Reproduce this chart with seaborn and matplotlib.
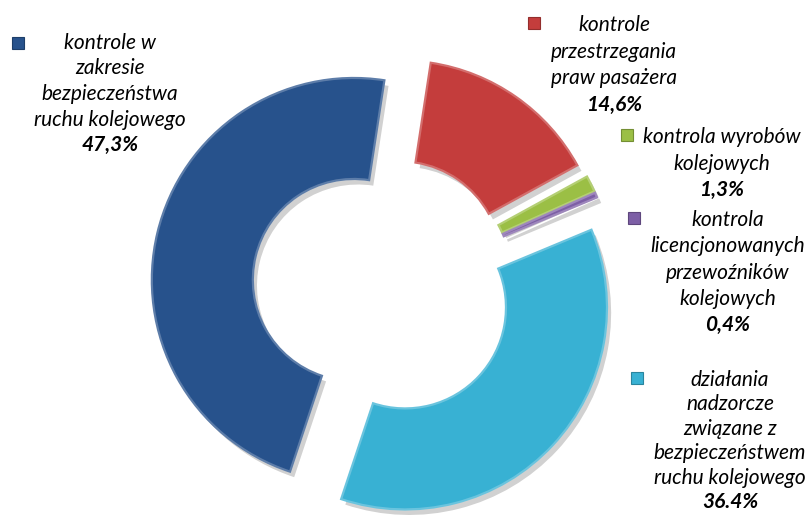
import numpy as np
import matplotlib
matplotlib.use("Agg")
import matplotlib.pyplot as plt
import matplotlib.patheffects as pe
from matplotlib import font_manager
import seaborn as sns

# data (clockwise from the top)
categories = [
    "kontrole\nprzestrzegania\npraw pasażera",
    "kontrola wyrobów\nkolejowych",
    "kontrola\nlicencjonowanych\nprzewoźników\nkolejowych",
    "działania\nnadzorcze\nzwiązane z\nbezpieczeństwem\nruchu kolejowego",
    "kontrole w\nzakresie\nbezpieczeństwa\nruchu kolejowego",
]
shares = [14.6, 1.3, 0.4, 36.4, 47.3]
pct_labels = ["14,6%", "1,3%", "0,4%", "36.4%", "47,3%"]
colors = ["#C43D3C", "#9BBF45", "#7D5FA6", "#38B1D3", "#27528C"]

sns.set_theme(style="white")

# pick a family that really has an italic face
fam = "DejaVu Sans"
for cand in ["Lato", "Noto Sans", "Open Sans", "Roboto", "Liberation Sans"]:
    ok = any(f.name == cand and f.style == "italic" for f in font_manager.fontManager.ttflist)
    if ok:
        fam = cand
        break
plt.rcParams["font.family"] = [fam, "DejaVu Sans"]
fsize = {"Lato": 15, "Noto Sans": 13.5, "Open Sans": 13.5, "Roboto": 14, "Liberation Sans": 14}.get(fam, 13)

W, H = 809, 515
fig = plt.figure(figsize=(W / 100, H / 100), dpi=100)
ax = fig.add_axes([0, 0, 1, 1])

wedges, _ = ax.pie(
    shares
    , colors=colors
    , startangle=81.3
    , counterclock=False
    , radius=202
    , center=(383, H - 287)
    , explode=[30] * len(shares)
    , wedgeprops=dict(width=101, linewidth=1.6)
    , frame=True
)
for w, c in zip(wedges, colors):
    rgb = np.array(matplotlib.colors.to_rgb(c))
    # light rim, a bit like the bevel in the original
    w.set_edgecolor(tuple(rgb + (1 - rgb) * 0.25))
    w.set_path_effects([
        pe.SimplePatchShadow(offset=(3, -4), shadow_rgbFace="black", alpha=0.18),
        pe.Normal(),
    ])
ax.set_xlim(0, W)
ax.set_ylim(0, H)
ax.axis("off")

# label layout: marker position, text centre x, first line y, line step (pixels, y down)
label_pos = [
    ((534, 23), 614, 25, 26.7),
    ((627, 135), 722, 137, 26.5),
    ((634, 218), 728, 220, 26.3),
    ((637, 378), 730, 380, 24.4),
    ((18, 43), 110, 43, 25.5),
]

for cat, pct, c, (mk, tx, ty, step) in zip(categories, pct_labels, colors, label_pos):
    ax.plot(mk[0], H - mk[1], marker="s", markersize=8, color=c,
            markeredgecolor=tuple(np.clip(np.array(matplotlib.colors.to_rgb(c)) * 0.75, 0, 1)),
            markeredgewidth=0.8)
    lines = cat.split("\n")
    for i, line in enumerate(lines):
        ax.text(tx, H - (ty + i * step), line, ha="center", va="center",
                fontsize=fsize, style="italic", color="black")
    ax.text(tx, H - (ty + len(lines) * step), pct, ha="center", va="center",
            fontsize=fsize, style="italic", fontweight="bold", color="black")

fig.savefig("out.png", dpi=100)
